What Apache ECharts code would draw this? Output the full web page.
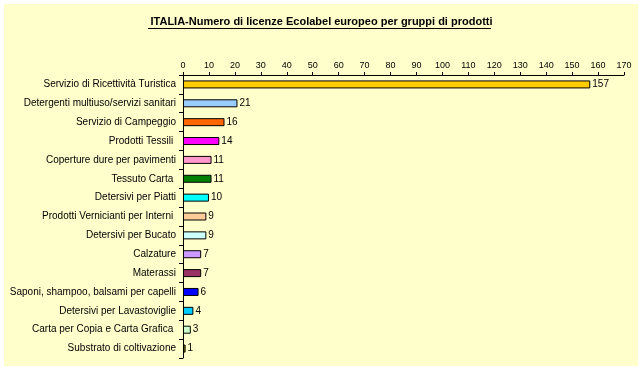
<!DOCTYPE html>
<html>
<head>
<meta charset="utf-8">
<script src="https://cdn.jsdelivr.net/npm/echarts@6/dist/echarts.min.js"></script>
<style>
html,body{margin:0;padding:0;background:#fff;}
#c{width:643px;height:371px;}
</style>
</head>
<body>
<div id="c"></div>
<script>
var categories = [
  "Servizio di Ricettività Turistica",
  "Detergenti multiuso/servizi sanitari",
  "Servizio di Campeggio",
  "Prodotti Tessili ",
  "Coperture dure per pavimenti",
  "Tessuto Carta ",
  "Detersivi per Piatti",
  "Prodotti Vernicianti per Interni ",
  "Detersivi per Bucato",
  "Calzature",
  "Materassi",
  "Saponi, shampoo, balsami per capelli",
  "Detersivi per Lavastoviglie",
  "Carta per Copia e Carta Grafica ",
  "Substrato di coltivazione"
];
var values = [157, 21, 16, 14, 11, 11, 10, 9, 9, 7, 7, 6, 4, 3, 1];
var colors = ["#FFCC00","#99CCFF","#FF6600","#FF00FF","#FF99CC","#008000","#00FFFF","#FFCC99","#CCFFFF","#CC99FF","#993366","#0000FF","#00CCFF","#CCFFCC","#808000"];
var titleText = "ITALIA-Numero di licenze Ecolabel europeo per gruppi di prodotti";

var chart = echarts.init(document.getElementById('c'), null, {renderer:'canvas'});
var font = 'Arial, "Liberation Sans", sans-serif';
chart.setOption({
  animation: false,
  backgroundColor: '#ffffff',
  graphic: [
    {type:'rect', z:-10, shape:{x:4,y:4,width:634,height:362}, style:{fill:'#FFFFCC'}},
    {type:'line', shape:{x1:148,y1:28.5,x2:491,y2:28.5}, style:{stroke:'#000',lineWidth:1}}
  ],
  title: {
    text: titleText,
    left: 'center',
    top: 16,
    padding: 0,
    textStyle: {fontFamily: font, fontSize: 11, fontWeight: 'bold', color: '#000', lineHeight: 12}
  },
  grid: {left: 183, right: 19, top: 75, bottom: 13, containLabel: false},
  xAxis: {
    type: 'value', position: 'top', min: 0, max: 170, interval: 10,
    axisLine: {show: true, lineStyle: {color: '#000', width: 1}},
    axisTick: {show: true, length: 3, lineStyle: {color: '#000'}},
    axisLabel: {fontFamily: font, fontSize: 9, color: '#000', margin: 5},
    splitLine: {show: false}
  },
  yAxis: {
    type: 'category', inverse: true, data: categories,
    axisLine: {show: true, lineStyle: {color: '#000', width: 1}},
    axisTick: {show: true, length: 4, lineStyle: {color: '#000'}},
    axisLabel: {fontFamily: font, fontSize: 10, color: '#000', margin: 7}
  },
  series: [{
    type: 'bar',
    data: values.map(function(v, i){ return {value: v, itemStyle: {color: colors[i]}}; }),
    barWidth: 8,
    itemStyle: {borderColor: '#000', borderWidth: 1},
    label: {show: true, position: 'right', distance: 2, fontFamily: font, fontSize: 10, color: '#000'}
  }]
});
</script>
</body>
</html>
